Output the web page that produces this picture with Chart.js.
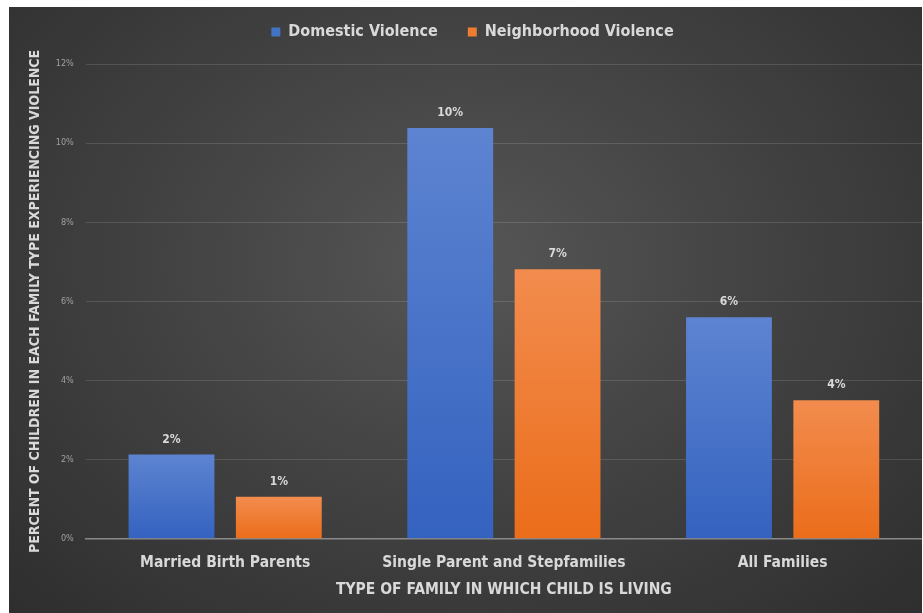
<!DOCTYPE html>
<html>
<head>
<meta charset="utf-8">
<script src="https://cdn.jsdelivr.net/npm/chart.js@4/dist/chart.umd.min.js"></script>
<style>
  html, body { margin: 0; padding: 0; background: #fff; }
  #box {
    position: absolute; left: 9px; top: 7px; width: 913px; height: 606px;
    background: radial-gradient(ellipse at 50% 42%, #565656 0%, #434343 45%, #2e2e2e 100%);
  }
  #myChart { display: block; }
</style>
</head>
<body>
<div id="box"><canvas id="myChart" width="913" height="606"></canvas></div>
<script>
// chart data
const categories = ['Married Birth Parents', 'Single Parent and Stepfamilies', 'All Families'];
const seriesNames = ['Domestic Violence', 'Neighborhood Violence'];
const domestic = [2.13, 10.38, 5.6];
const neighborhood = [1.06, 6.81, 3.5];
const yTicks = [0, 2, 4, 6, 8, 10, 12];

const FONT = "'Liberation Sans Narrow', 'DejaVu Sans Condensed', Lato, sans-serif";

// per-bar vertical gradient (lighter on top)
function barFill(top, bottom) {
  return function (c) {
    const y = c.chart.scales.y;
    if (!y || !c.chart.chartArea) return bottom;
    const y0 = y.getPixelForValue(c.raw);
    const y1 = y.getPixelForValue(0);
    if (!isFinite(y0) || !isFinite(y1) || y0 === y1) return bottom;
    const g = c.chart.ctx.createLinearGradient(0, y0, 0, y1);
    g.addColorStop(0, top);
    g.addColorStop(1, bottom);
    return g;
  };
}

// value labels above the bars
const valueLabels = {
  id: 'valueLabels',
  afterDatasetsDraw(chart) {
    const ctx = chart.ctx;
    ctx.save();
    ctx.font = "bold 12px " + FONT;
    ctx.fillStyle = '#d9d9d9';
    ctx.textAlign = 'center';
    ctx.textBaseline = 'middle';
    chart.data.datasets.forEach((ds, i) => {
      chart.getDatasetMeta(i).data.forEach((bar, j) => {
        ctx.fillText(Math.round(ds.data[j]) + '%', bar.x, bar.y - 15);
      });
    });
    ctx.restore();
  }
};

// extra space under the legend
const legendMargin = {
  id: 'legendMargin',
  beforeInit(chart) {
    const fit = chart.legend.fit;
    chart.legend.fit = function () {
      fit.bind(chart.legend)();
      this.height += 14;
    };
  }
};

const ctx = document.getElementById('myChart');

new Chart(ctx, {
  type: 'bar',
  data: {
    labels: categories,
    datasets: [{
      label: seriesNames[0],
      data: domestic,
      backgroundColor: barFill('#5d84d1', '#3462bf'),
      legendColor: '#4472c4',
      categoryPercentage: 0.77,
      barPercentage: 0.8
    }, {
      label: seriesNames[1],
      data: neighborhood,
      backgroundColor: barFill('#f28c4e', '#eb6d1a'),
      legendColor: '#ed7d31',
      categoryPercentage: 0.77,
      barPercentage: 0.8
    }]
  },
  options: {
    responsive: false,
    animation: false,
    layout: { padding: { top: -13, right: 0, left: 14, bottom: 14 } },
    plugins: {
      tooltip: { enabled: false },
      legend: {
        position: 'top',
        labels: {
          color: '#d9d9d9',
          font: { family: FONT, size: 16, weight: 'bold' },
          boxWidth: 9,
          boxHeight: 9,
          padding: 30,
          generateLabels(chart) {
            return chart.data.datasets.map((ds, i) => ({
              text: ds.label,
              fillStyle: ds.legendColor,
              strokeStyle: ds.legendColor,
              lineWidth: 0,
              fontColor: '#d9d9d9',
              datasetIndex: i
            }));
          }
        }
      }
    },
    scales: {
      x: {
        grid: { display: false },
        border: { color: '#8a8a8a', width: 1.5 },
        ticks: { color: '#d9d9d9', font: { family: FONT, size: 15.5, weight: 'bold' }, padding: 7 },
        title: {
          display: true,
          text: 'TYPE OF FAMILY IN WHICH CHILD IS LIVING',
          color: '#d9d9d9',
          font: { family: FONT, size: 15.5, weight: 'bold' },
          padding: { top: 1, bottom: 0 }
        }
      },
      y: {
        min: 0,
        max: 12,
        afterBuildTicks(axis) { axis.ticks = yTicks.map(v => ({ value: v })); },
        grid: { color: 'rgba(255,255,255,0.13)', drawTicks: false },
        border: { display: false },
        ticks: {
          color: '#a0a0a0',
          font: { family: FONT, size: 9 },
          padding: 12,
          callback: v => v + '%'
        },
        title: {
          display: true,
          text: 'PERCENT OF CHILDREN IN EACH FAMILY TYPE EXPERIENCING VIOLENCE',
          color: '#d9d9d9',
          font: { family: FONT, size: 14, weight: 'bold' },
          padding: { top: 4, bottom: 0 }
        }
      }
    }
  },
  plugins: [valueLabels, legendMargin]
});
</script>
</body>
</html>
